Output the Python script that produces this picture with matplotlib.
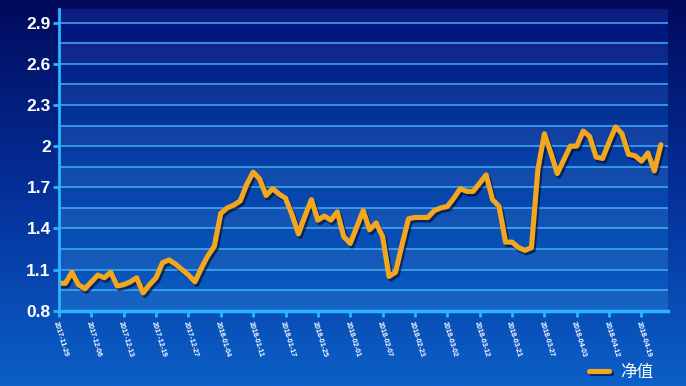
import numpy as np
import matplotlib

matplotlib.use("Agg")
import matplotlib.pyplot as plt  # noqa: E402
import matplotlib.patheffects as pe  # noqa: E402
from matplotlib.colors import LinearSegmentedColormap  # noqa: E402

# net value series, one point per trading day
NAV = [
    1.00, 1.00, 1.08, 0.99, 0.96, 1.01, 1.06, 1.04, 1.08, 0.98,
    0.99, 1.01, 1.04, 0.93, 0.99, 1.04, 1.15, 1.17, 1.14, 1.10,
    1.06, 1.01, 1.11, 1.20, 1.27, 1.51, 1.55, 1.57, 1.60, 1.72,
    1.81, 1.76, 1.64, 1.69, 1.65, 1.62, 1.50, 1.36, 1.49, 1.61,
    1.46, 1.49, 1.46, 1.52, 1.34, 1.29, 1.41, 1.53, 1.39, 1.44,
    1.34, 1.05, 1.08, 1.28, 1.47, 1.48, 1.48, 1.48, 1.53, 1.55,
    1.56, 1.62, 1.69, 1.67, 1.67, 1.73, 1.79, 1.61, 1.56, 1.30,
    1.30, 1.26, 1.24, 1.26, 1.83, 2.09, 1.95, 1.80, 1.90, 2.00,
    2.00, 2.11, 2.07, 1.92, 1.91, 2.03, 2.14, 2.09, 1.94, 1.93,
    1.89, 1.95, 1.82, 2.01,
]
TICK_LABELS = [
    "2017-11-29", "2017-12-06", "2017-12-13", "2017-12-19", "2017-12-27",
    "2018-01-04", "2018-01-11", "2018-01-17", "2018-01-25", "2018-02-01",
    "2018-02-07", "2018-02-23", "2018-03-02", "2018-03-12", "2018-03-21",
    "2018-03-27", "2018-04-03", "2018-04-12", "2018-04-19",
]
Y_TICKS = [0.8, 1.1, 1.4, 1.7, 2.0, 2.3, 2.6, 2.9]
Y_TICK_LABELS = ["0.8", "1.1", "1.4", "1.7", "2", "2.3", "2.6", "2.9"]
SERIES_NAME = "净值"

LINE = "#f3a71e"
AXIS = "#29b6ff"
GRID = "#45b4f4"

plt.rcParams["font.family"] = ["Liberation Sans", "DejaVu Sans"]

fig = plt.figure(figsize=(6.86, 3.86), dpi=100)

# full-figure background gradient
bg = fig.add_axes([0, 0, 1, 1], zorder=-10)
bg_cmap = LinearSegmentedColormap.from_list("bg", ["#010a5c", "#05309a", "#0b60c8"])
bg.imshow(np.linspace(0, 1, 256).reshape(-1, 1), aspect="auto", cmap=bg_cmap,
          extent=[0, 1, 0, 1], origin="upper")
bg.set_axis_off()

ax = fig.add_axes([59 / 686, 1 - 310.7 / 386, 609 / 686, 301.7 / 386])
ax.patch.set_alpha(0)
x = np.arange(len(NAV))
x_max = 94.1
y_lo, y_hi = 0.8, 3.0

plot_cmap = LinearSegmentedColormap.from_list("pa", ["#02107a", "#0640a6", "#0b5cc2"])
ax.imshow(np.linspace(0, 1, 256).reshape(-1, 1), aspect="auto", cmap=plot_cmap,
          extent=[0, x_max, y_lo, y_hi], origin="upper", zorder=0)

# alternating bands and grid lines every 0.15
edges = np.arange(y_lo, y_hi + 0.001, 0.15)
for i, lo in enumerate(edges):
    if i % 2 == 0:
        ax.axhspan(lo, min(lo + 0.15, y_hi), color="white", alpha=0.05, lw=0, zorder=1)
    if i > 0:
        ax.axhline(lo, color=GRID, lw=1.1, alpha=0.95, zorder=2)

ax.plot(x, NAV, color=LINE, lw=3.7, solid_joinstyle="round", solid_capstyle="round",
        zorder=4, label=SERIES_NAME,
        path_effects=[pe.SimpleLineShadow(offset=(1.3, -1.8), shadow_color="#000820",
                                          alpha=0.6),
                      pe.Normal()])

ax.set_xlim(0, x_max)
ax.set_ylim(y_lo, y_hi)

ax.set_yticks(Y_TICKS)
ax.set_yticklabels(Y_TICK_LABELS, fontsize=12.5, fontweight="bold", color="white")
ax.set_xticks(np.arange(0, 5 * len(TICK_LABELS), 5))
ax.set_xticklabels(TICK_LABELS, fontsize=5.2, fontweight="bold", color="white",
                   rotation=-73, ha="left", va="top", rotation_mode="anchor")
ax.tick_params(axis="both", colors=AXIS, length=4, width=2, direction="out")
ax.tick_params(axis="y", pad=2, labelcolor="white")
ax.tick_params(axis="x", pad=3, labelcolor="white")

for side in ("top", "right"):
    ax.spines[side].set_visible(False)
ax.spines["left"].set_color(AXIS)
ax.spines["left"].set_linewidth(2)
ax.spines["bottom"].set_color(AXIS)
ax.spines["bottom"].set_linewidth(2.5)
ax.spines["left"].set_zorder(5)
ax.spines["bottom"].set_zorder(5)

leg = fig.legend(loc="center left", bbox_to_anchor=(574 / 686, 1 - 372 / 386),
                 frameon=False, handlelength=1.2, handletextpad=0.7,
                 prop={"family": ["Noto Sans CJK SC", "DejaVu Sans"], "size": 12})
for t in leg.get_texts():
    t.set_color("white")

fig.savefig("out.png", dpi=100)
